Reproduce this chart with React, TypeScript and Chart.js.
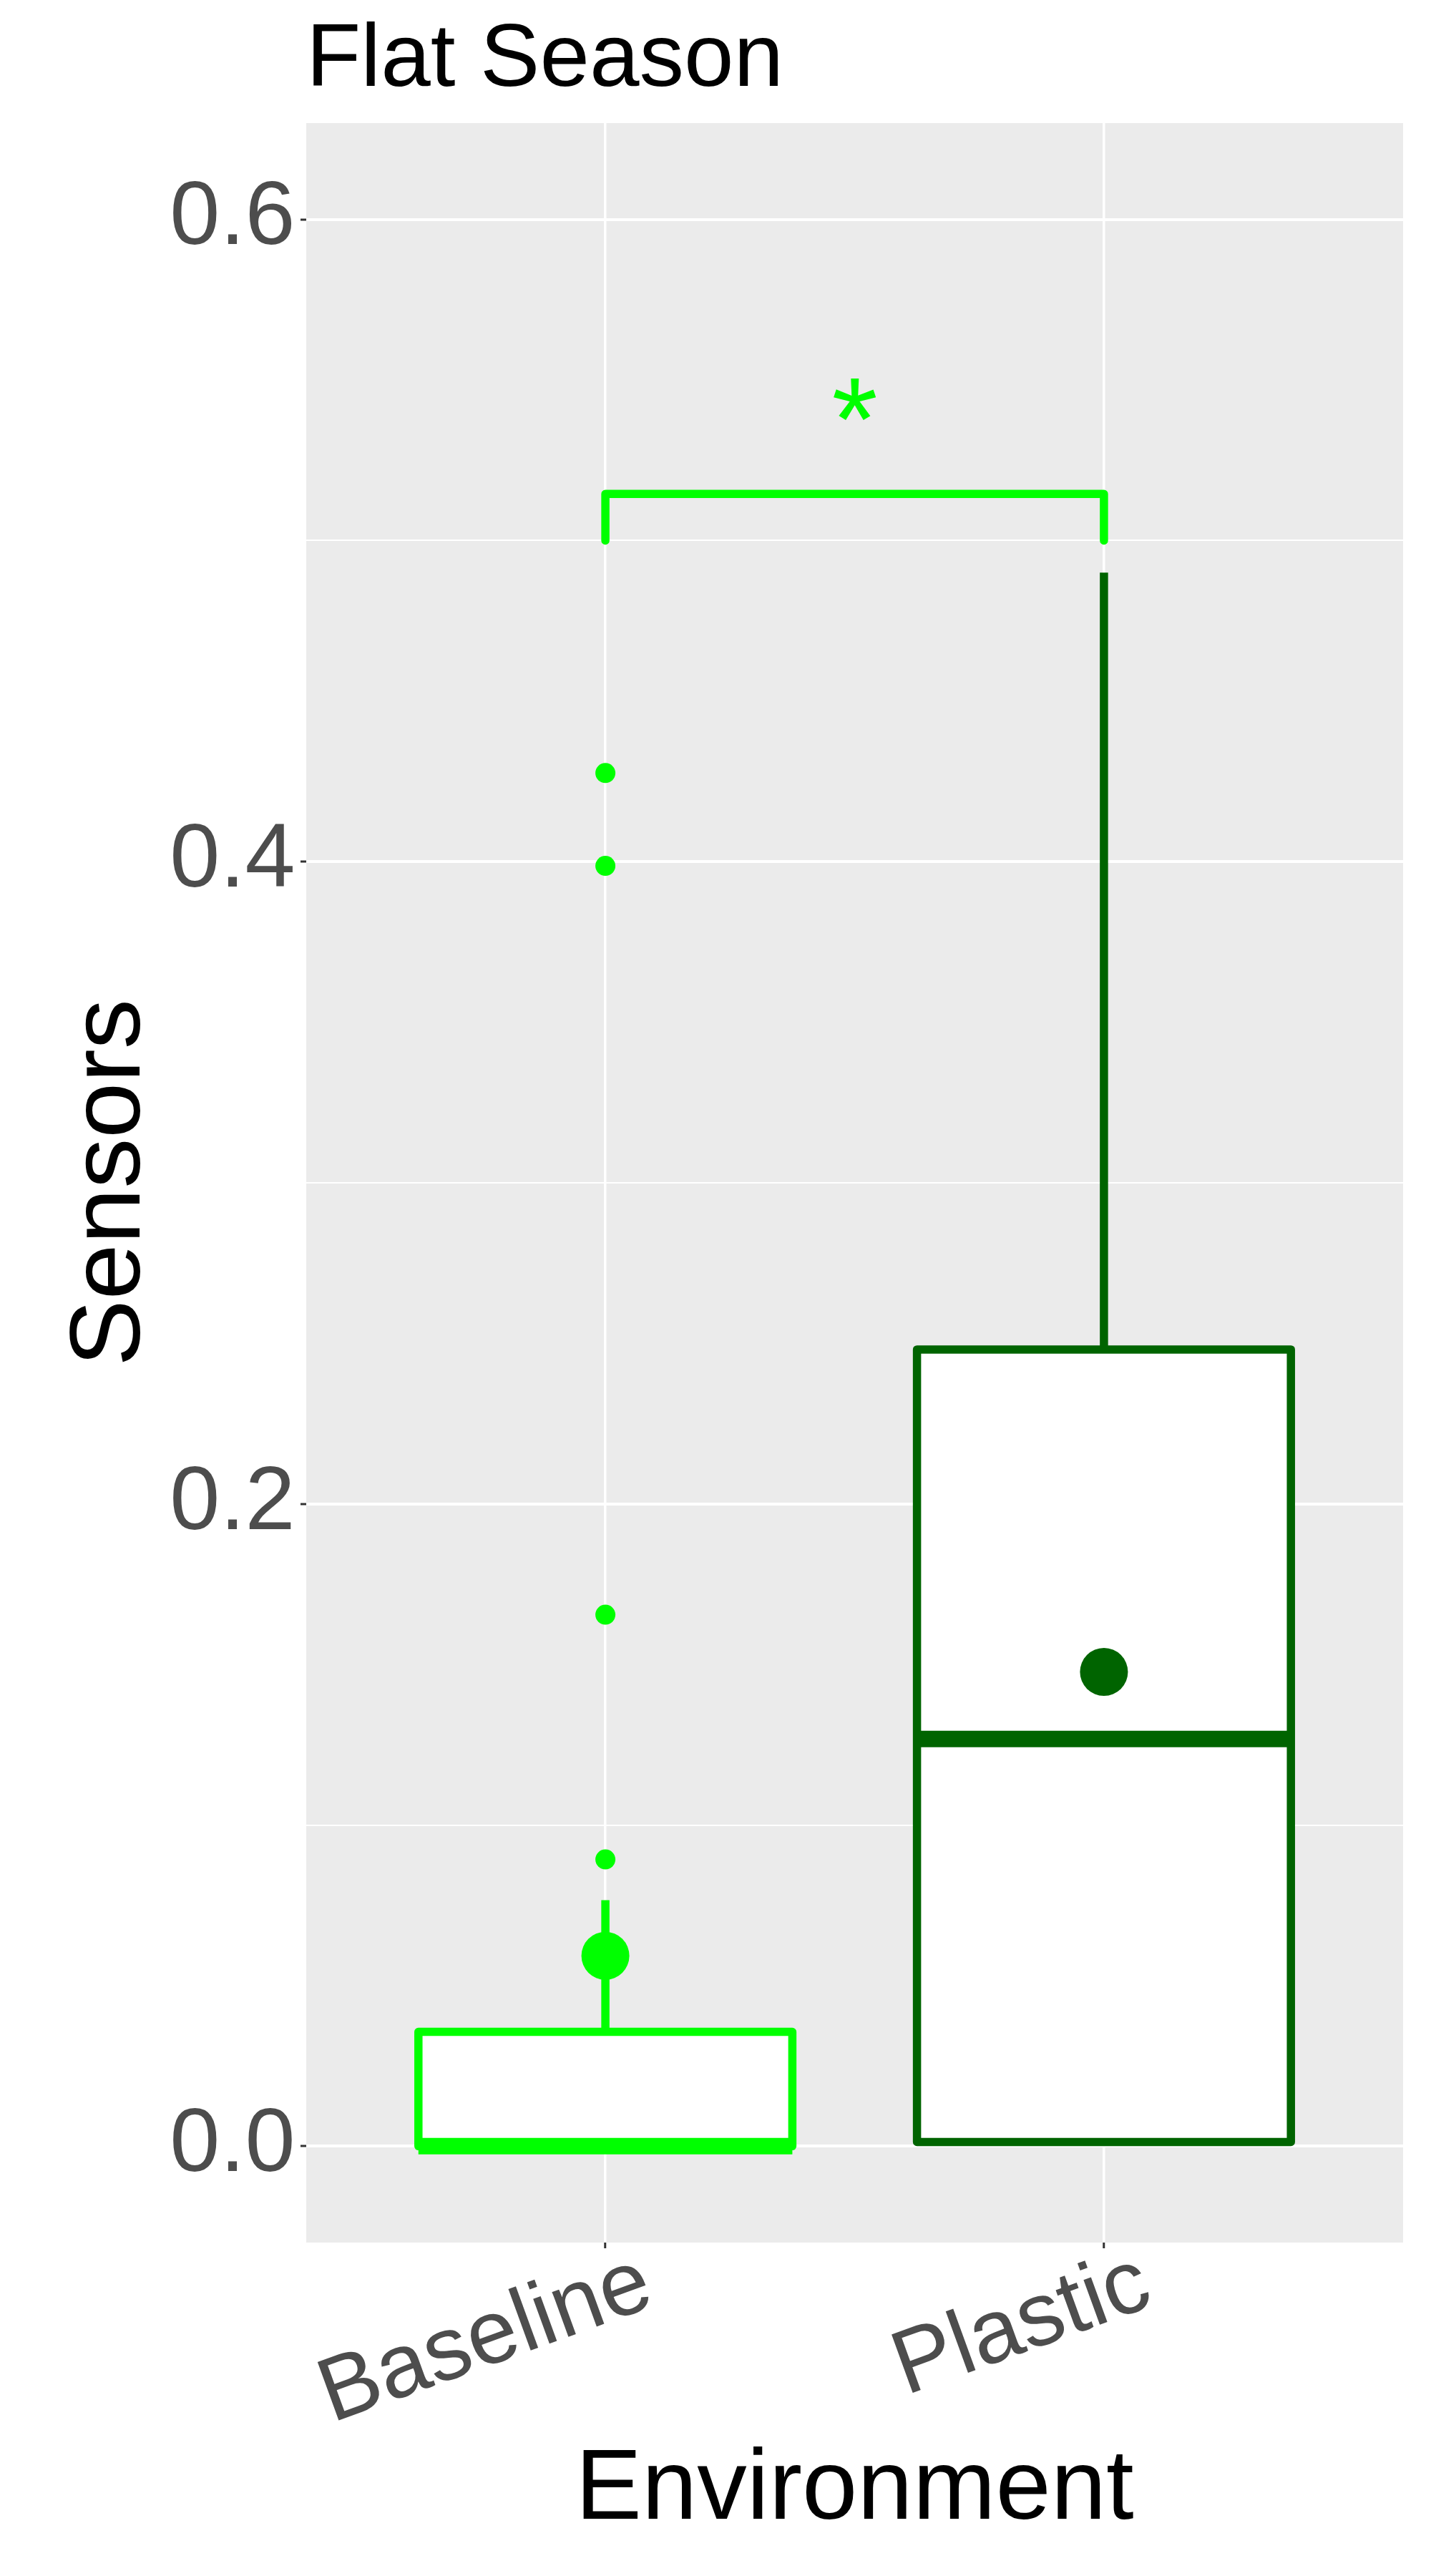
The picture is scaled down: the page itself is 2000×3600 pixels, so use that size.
import React, { useEffect, useRef } from 'react';
import { Chart, registerables } from 'chart.js';

Chart.register(...registerables);

// ---------- data ----------
const TITLE = 'Flat Season';
const X_TITLE = 'Environment';
const Y_TITLE = 'Sensors';
const CATEGORIES = ['Baseline', 'Plastic'];
const BOX_COLORS = ['#00FF00', '#006400'];
const WHISKER_LOW = [0, 0.0013];
const Q1 = [0, 0.0013];
const MEDIAN = [0, 0.1268];
const Q3 = [0.0356, 0.2481];
const WHISKER_HIGH = [0.0766, 0.49];
const MEAN = [0.0593, 0.1477];
const OUTLIERS_BASELINE = [0.0893, 0.1655, 0.3987, 0.4276];
const OUTLIERS_PLASTIC: number[] = [];
const OUTLIERS = [OUTLIERS_BASELINE, OUTLIERS_PLASTIC];
const Y_MAJOR = [0, 0.2, 0.4, 0.6];
const Y_MINOR = [0.1, 0.3, 0.5];
const Y_LIMITS = [-0.03, 0.63];
const X_LIMITS = [0.4, 2.6];
const SIG_PAIR = [1, 2];
const SIG_BRACKET_Y = [0.5, 0.5145];
const SIG_LABEL = '*';
const SIG_LABEL_Y = 0.5439;
const SIG_COLOR = '#00FF00';

// ---------- style ----------
const FONT = '"Liberation Sans", Arial, Helvetica, sans-serif';
const BOX_WIDTH = 0.75;
const PANEL_BG = '#EBEBEB';

const isMajor = (v: number) => Y_MAJOR.some((m) => Math.abs(m - v) < 1e-9);

function buildDatasets(): any[] {
  const sets: any[] = [];
  CATEGORIES.forEach((_, i) => {
    const x = i + 1;
    const l = x - BOX_WIDTH / 2;
    const r = x + BOX_WIDTH / 2;
    const color = BOX_COLORS[i];
    const lineBase = {
      type: 'line',
      showLine: true,
      pointRadius: 0,
      pointHoverRadius: 0,
      borderColor: color,
      tension: 0,
      fill: false,
    };
    sets.push({
      ...lineBase,
      label: `${CATEGORIES[i]} upper whisker`,
      data: [{ x, y: Q3[i] }, { x, y: WHISKER_HIGH[i] }],
      borderWidth: 11.5,
      borderCapStyle: 'butt',
      order: 50,
    });
    if (WHISKER_LOW[i] < Q1[i]) {
      sets.push({
        ...lineBase,
        label: `${CATEGORIES[i]} lower whisker`,
        data: [{ x, y: Q1[i] }, { x, y: WHISKER_LOW[i] }],
        borderWidth: 11.5,
        borderCapStyle: 'butt',
        order: 50,
      });
    }
    sets.push({
      ...lineBase,
      label: `${CATEGORIES[i]} box`,
      data: [
        { x: l, y: Q1[i] },
        { x: r, y: Q1[i] },
        { x: r, y: Q3[i] },
        { x: l, y: Q3[i] },
        { x: l, y: Q1[i] },
      ],
      borderWidth: 11.5,
      borderJoinStyle: 'round',
      borderCapStyle: 'round',
      fill: 'shape',
      backgroundColor: '#FFFFFF',
      order: 40,
    });
    sets.push({
      ...lineBase,
      label: `${CATEGORIES[i]} median`,
      data: [{ x: l, y: MEDIAN[i] }, { x: r, y: MEDIAN[i] }],
      borderWidth: 23,
      borderCapStyle: 'butt',
      order: 30,
    });
    if (OUTLIERS[i].length) {
      sets.push({
        type: 'scatter',
        label: `${CATEGORIES[i]} outliers`,
        data: OUTLIERS[i].map((v) => ({ x, y: v })),
        pointRadius: 14,
        pointHoverRadius: 14,
        pointBackgroundColor: color,
        pointBorderWidth: 0,
        showLine: false,
        order: 20,
      });
    }
    sets.push({
      type: 'scatter',
      label: `${CATEGORIES[i]} mean`,
      data: [{ x, y: MEAN[i] }],
      pointRadius: 33.5,
      pointHoverRadius: 33.5,
      pointBackgroundColor: color,
      pointBorderWidth: 0,
      showLine: false,
      order: 10,
    });
  });
  sets.push({
    type: 'line',
    label: 'significance bracket',
    data: [
      { x: SIG_PAIR[0], y: SIG_BRACKET_Y[0] },
      { x: SIG_PAIR[0], y: SIG_BRACKET_Y[1] },
      { x: SIG_PAIR[1], y: SIG_BRACKET_Y[1] },
      { x: SIG_PAIR[1], y: SIG_BRACKET_Y[0] },
    ],
    borderColor: SIG_COLOR,
    borderWidth: 11.5,
    borderCapStyle: 'round',
    borderJoinStyle: 'round',
    pointRadius: 0,
    pointHoverRadius: 0,
    tension: 0,
    fill: false,
    order: 5,
  });
  return sets;
}

const panelBgPlugin = {
  id: 'panelBg',
  beforeDraw(chart: any) {
    const { ctx, chartArea } = chart;
    ctx.save();
    ctx.fillStyle = '#FFFFFF';
    ctx.fillRect(0, 0, chart.width, chart.height);
    ctx.fillStyle = PANEL_BG;
    ctx.fillRect(chartArea.left, chartArea.top, chartArea.right - chartArea.left, chartArea.bottom - chartArea.top);
    ctx.restore();
  },
};

const sigLabelPlugin = {
  id: 'sigLabel',
  afterDatasetsDraw(chart: any) {
    const { ctx } = chart;
    const xs = chart.scales.x;
    const ys = chart.scales.y;
    const px = xs.getPixelForValue((SIG_PAIR[0] + SIG_PAIR[1]) / 2);
    const py = ys.getPixelForValue(SIG_LABEL_Y);
    ctx.save();
    ctx.font = `165px ${FONT}`;
    ctx.fillStyle = SIG_COLOR;
    ctx.textAlign = 'left';
    ctx.textBaseline = 'alphabetic';
    const m = ctx.measureText(SIG_LABEL);
    const X = px - (m.actualBoundingBoxRight - m.actualBoundingBoxLeft) / 2;
    const Y = py + (m.actualBoundingBoxAscent - m.actualBoundingBoxDescent) / 2;
    ctx.fillText(SIG_LABEL, X, Y);
    ctx.restore();
  },
};

export default function App() {
  const ref = useRef<HTMLCanvasElement | null>(null);
  useEffect(() => {
    document.body.style.margin = '0';
    const canvas = ref.current;
    if (!canvas) return;
    const chart = new Chart(canvas, {
      type: 'scatter',
      data: { datasets: buildDatasets() },
      plugins: [panelBgPlugin, sigLabelPlugin],
      options: {
        animation: false,
        responsive: false,
        devicePixelRatio: 1,
        events: [],
        layout: { padding: { top: 0, left: 0, right: 39, bottom: 0 } },
        plugins: {
          legend: { display: false },
          tooltip: { enabled: false },
          title: {
            display: true,
            text: TITLE,
            align: 'start',
            fullSize: false,
            color: '#000000',
            font: { family: FONT, size: 125, weight: 'normal', lineHeight: 1.2 },
            padding: { top: 10.7, bottom: 11.3 },
          },
        },
        scales: {
          x: {
            type: 'linear',
            min: X_LIMITS[0],
            max: X_LIMITS[1],
            bounds: 'data',
            afterBuildTicks: (axis: any) => {
              axis.ticks = CATEGORIES.map((_, i) => ({ value: i + 1 }));
            },
            afterFit: (axis: any) => {
              axis.height = 466;
              axis.paddingLeft = 0;
              axis.paddingRight = 0;
            },
            border: { display: false },
            grid: {
              color: '#FFFFFF',
              lineWidth: 3.5,
              drawTicks: true,
              tickLength: 8,
              tickWidth: 3,
              tickColor: '#333333',
            },
            ticks: {
              autoSkip: false,
              minRotation: 20,
              maxRotation: 20,
              padding: -25,
              labelOffset: 60,
              color: '#4D4D4D',
              font: { family: FONT, size: 126, lineHeight: 1.2 },
              callback: (v: any) => CATEGORIES[Math.round(Number(v)) - 1] ?? '',
            },
            title: {
              display: true,
              text: X_TITLE,
              color: '#000000',
              font: { family: FONT, size: 139, lineHeight: 1.2 },
              padding: { top: 0, bottom: 35 },
            },
          },
          y: {
            type: 'linear',
            min: Y_LIMITS[0],
            max: Y_LIMITS[1],
            bounds: 'data',
            afterBuildTicks: (axis: any) => {
              axis.ticks = [...Y_MAJOR, ...Y_MINOR].sort((a, b) => a - b).map((v) => ({ value: v }));
            },
            afterFit: (axis: any) => {
              axis.width = 428;
              axis.paddingTop = 0;
              axis.paddingBottom = 0;
            },
            border: { display: false },
            grid: {
              color: '#FFFFFF',
              lineWidth: (c: any) => (c.tick && isMajor(c.tick.value) ? 4 : 2),
              drawTicks: true,
              tickLength: 8,
              tickWidth: 3,
              tickColor: (c: any) => (c.tick && isMajor(c.tick.value) ? '#333333' : 'rgba(0,0,0,0)'),
            },
            ticks: {
              autoSkip: false,
              padding: 7.5,
              color: '#4D4D4D',
              font: { family: FONT, size: 126, lineHeight: 1.2 },
              callback: (v: any) => (isMajor(Number(v)) ? Number(v).toFixed(1) : ''),
            },
            title: {
              display: true,
              text: Y_TITLE,
              color: '#000000',
              font: { family: FONT, size: 140, lineHeight: 1.2 },
              padding: { top: 72, bottom: 0 },
            },
          },
        },
      } as any,
    });
    return () => chart.destroy();
  }, []);
  return <canvas ref={ref} width={2000} height={3600} style={{ display: 'block', width: 2000, height: 3600 }} />;
}
